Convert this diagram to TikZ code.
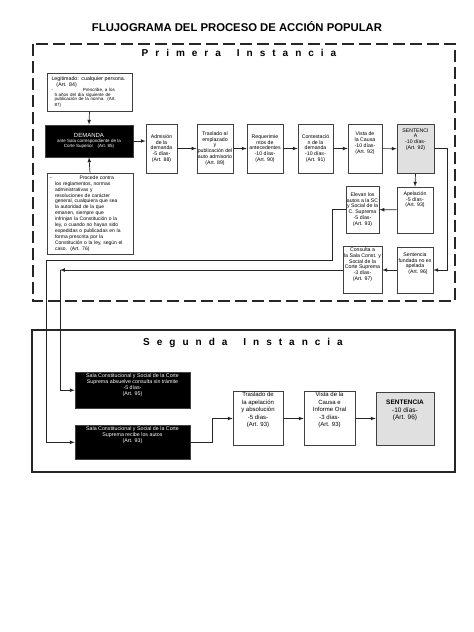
\documentclass[tikz,border=0pt]{standalone}
\usepackage{fontspec}
\setmainfont{Liberation Sans}
\newfontfamily\espaciada[LetterSpace=70]{Liberation Sans}
\begin{document}
\begin{tikzpicture}[x=1pt,y=-1pt,
		caja/.style={draw=black!75,line width=.6pt,fill=white,inner sep=1pt,align=center,font=\fontsize{5.2}{5.8}\selectfont},
		negra/.style={caja,fill=black,text=white},
		gris/.style={caja,fill=black!12},
		flecha/.style={-latex,black!85,line width=.7pt}]
	\useasboundingbox (0,0) rectangle (474,632);
	
	\node[font=\bfseries\fontsize{11.3}{13}\selectfont] (titulo) at (237,27) {FLUJOGRAMA DEL PROCESO DE ACCIÓN POPULAR};
	
	% primera instancia
	\draw[black!85,line width=1.5pt,dash pattern=on 12pt off 5pt] (33,44) rectangle (455,301);
	\node[font=\espaciada\bfseries\fontsize{10}{12}\selectfont] (prim) at (239,53) {Primera\hspace{16pt}Instancia};
	
	\node[caja,minimum width=85,minimum height=38,text width=76pt,align=left] (legit) at (89.5,92)
		{{\fontsize{5.3}{6.2}\selectfont Legitimado: cualquier persona.\\ \hspace*{5pt}(Art. 84)}\\[1pt]
		{\fontsize{4.5}{4.6}\selectfont -\hspace*{30pt}Prescribe, a los\\ \hspace*{3pt}5 años del día siguiente de\\ \hspace*{3pt}publicación de la norma. (Art.\\ \hspace*{3pt}87)}};
	\node[negra,minimum width=88,minimum height=32,font=\fontsize{4.5}{5}\selectfont] (demanda) at (89,141)
		{{\fontsize{6}{7}\selectfont DEMANDA}\\ ante Sala correspondiente de la\\ Corte Superior\quad(Art. 85)};
	\node[caja,minimum width=86,minimum height=81,text width=70pt,align=left,font=\fontsize{5}{5.9}\selectfont] (procede) at (90,213.5)
		{\hspace*{-5pt}-\hspace*{28pt}Procede contra\\ los reglamentos, normas\\ administrativas y\\ resoluciones de carácter\\ general, cualquiera que sea\\ la autoridad de la que\\ emanen, siempre que\\ infrinjan la Constitución o la\\ ley, o cuando no hayan sido\\ expedidas o publicadas en la\\ forma prescrita por la\\ Constitución o la ley, según el\\ caso.\ \ (Art. 76)};
	
	\node[caja,minimum width=31,minimum height=49] (adm) at (161.5,148.5) {Admisión\\ de la\\ demanda\\ -5 días-\\ (Art. 88)};
	\node[caja,minimum width=36,minimum height=49] (tras) at (215,148.5) {Traslado al\\ emplazado\\ y\\ publicación del\\ auto admisorio\\ (Art. 89)};
	\node[caja,minimum width=36,minimum height=49] (req) at (265,148.5) {Requerimie\\ ntos de\\ antecedentes\\ -10 días-\\ (Art. 90)};
	\node[caja,minimum width=35,minimum height=49] (cont) at (315.5,148.5) {Contestació\\ n de la\\ demanda\\ -10 días-\\ (Art. 91)};
	\node[caja,minimum width=34,minimum height=49] (vis) at (365,148.5) {Vista de\\ la Causa\\ -10 días-\\ (Art. 92)\\[6pt]};
	\node[gris,minimum width=37,minimum height=49,anchor=north] (sent) at (415.5,124) {SENTENCI\\ A\\ -10 días-\\ (Art. 92)\\[14pt]};
	
	\node[caja,minimum width=36,minimum height=46] (apel) at (415,210) {Apelación\\ -5 días-\\ (Art. 93)\\[16pt]};
	\node[caja,minimum width=31,minimum height=47] (elev) at (362.5,209.5) {Elevan los\\ autos a la SC\\ y Social de la\\ C. Suprema\\ -5 días-\\ (Art. 93)};
	\node[caja,minimum width=31,minimum height=46] (cons) at (362.5,270) {Consulta a\\ la Sala Const. y\\ Social de la\\ Corte Suprema\\ -3 días-\\ (Art. 97)\\[6pt]};
	\node[caja,minimum width=36,minimum height=46] (fund) at (415,270) {Sentencia\\ fundada no es\\ apelada\\ \hspace*{6pt}(Art. 96)\\[8pt]};
	
	% segunda instancia
	\draw[black!85,line width=1.2pt] (32,330) rectangle (455,472);
	\node[font=\espaciada\bfseries\fontsize{10}{12}\selectfont] (seg) at (243,343) {Segunda\hspace{16pt}Instancia};
	
	\node[negra,minimum width=115,minimum height=35,font=\fontsize{5.3}{6}\selectfont,anchor=north] (absuelve) at (132.5,372)
		{Sala Constitucional y Social de la Corte\\ Suprema absuelve consulta sin trámite\\ -5 días-\\ (Art. 95)\\[6pt]};
	\node[negra,minimum width=115,minimum height=34,font=\fontsize{5.3}{6}\selectfont,anchor=north] (recibe) at (132.5,425)
		{\\[-3pt]Sala Constitucional y Social de la Corte\\ Suprema recibe los autos\\ (Art. 93)\\[8pt]};
	\node[caja,minimum width=50,minimum height=53,font=\fontsize{6}{7.5}\selectfont] (tras2) at (258,418.5) {Traslado de\\ la apelación\\ y absolución\\ -5 días-\\ (Art. 93)\\[10pt]};
	\node[caja,minimum width=51,minimum height=53,font=\fontsize{6}{7.5}\selectfont] (vis2) at (329.5,418.5) {Vista de la\\ Causa e\\ Informe Oral\\ -3 días-\\ (Art. 93)\\[10pt]};
	\node[gris,minimum width=58,minimum height=53,font=\fontsize{6.5}{7.5}\selectfont] (sent2) at (405,418.5) {{\bfseries SENTENCIA}\\ -10 días-\\ (Art. 96)\\[10pt]};
	
	% conectores
	\coordinate (e1) at (332,260);
	\coordinate (e2) at (46,260);
	\coordinate (c1) at (60,0);
	\draw[flecha] (legit.south) -- (demanda.north);
	\draw[flecha] (procede.north) -- (demanda.south);
	\draw[flecha] (demanda.east) -- (demanda.east -| adm.west);
	\foreach \a/\b in {adm/tras,tras/req,req/cont,cont/vis,vis/sent}
		\draw[flecha] (\a) -- (\b);
	\draw[flecha] (sent.south) -- (apel.north);
	\draw[flecha] (sent.east) -- ++(13,0) |- (fund.east);
	\draw[flecha] (apel) -- (elev);
	\draw[flecha] (fund) -- (cons);
	\draw[flecha] (elev.west) -- (elev.west -| e1) -- (e1) -- (e2) |- (recibe.west);
	\draw[flecha] (cons.west) -- (cons.west -| c1);
	\draw[flecha] (cons.west -| c1) |- (absuelve.west);
	\draw[flecha] (recibe.east) -- ++(22,0) |- (tras2.west);
	\draw[flecha] (tras2) -- (vis2);
	\draw[flecha] (vis2) -- (sent2);
\end{tikzpicture}
\end{document}
